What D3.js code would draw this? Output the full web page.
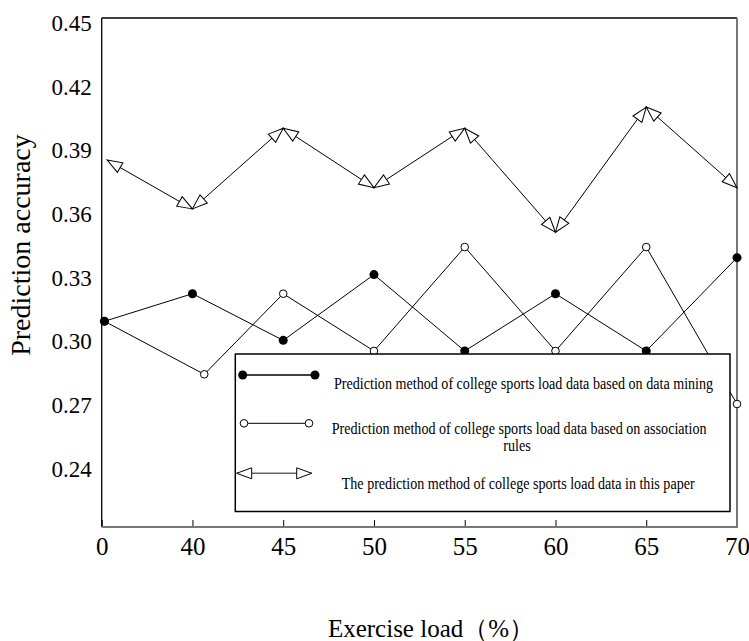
<!DOCTYPE html>
<html><head><meta charset="utf-8">
<script src="https://cdn.jsdelivr.net/npm/d3@7"></script>
<style>html,body{margin:0;padding:0;background:#fff;} svg{display:block;}</style>
</head><body><svg id="chart" width="749" height="641"></svg>
<script>
// ---- data ----
const xTickLabels = ["0","40","45","50","55","60","65","70"];
const xTickIndex = [0,1,2,3,4,5,6,7];
const yTickValues = [0.24,0.27,0.30,0.33,0.36,0.39,0.42,0.45];
const seriesNames = [
  "Prediction method of college sports load data based on data mining",
  "Prediction method of college sports load data based on association",
  "rules",
  "The prediction method of college sports load data in this paper"
];
const miningX = [0.03,1,2,3,4,5,6,7];
const miningY = [0.307,0.320,0.298,0.329,0.293,0.320,0.293,0.337];
const assocX  = [0.03,1.13,2,3,4,5,6,7];
const assocY  = [0.307,0.282,0.320,0.293,0.342,0.293,0.342,0.268];
const paperX  = [0.06,1,2,3,4,5,6,7];
const paperY  = [0.383,0.360,0.398,0.370,0.398,0.349,0.408,0.370];
const xTitle = "Exercise load（%）";
const yTitle = "Prediction accuracy";

// ---- layout ----
const FONT = "'Liberation Serif','Times New Roman',serif";
const L = 101.7, R = 737, T = 18, B = 527;
const svg = d3.select("#chart");
svg.append("rect").attr("width",749).attr("height",641).attr("fill","#fff");

const x = d3.scaleLinear().domain([0,7]).range([L,R]);
const y = d3.scaleLinear().domain([0.21,0.45]).range([B,T]);

const defs = svg.append("defs");
defs.append("marker").attr("id","tri")
  .attr("viewBox","0 0 15 11").attr("refX",15).attr("refY",5.5)
  .attr("markerWidth",15).attr("markerHeight",11)
  .attr("markerUnits","userSpaceOnUse").attr("orient","auto-start-reverse")
  .attr("overflow","visible")
  .append("path").attr("d","M0,0 L15,5.5 L0,11 Z")
  .attr("fill","#fff").attr("stroke","#000").attr("stroke-width",1);

// x axis (ticks inward)
const xAxis = d3.axisBottom(x).tickValues(xTickIndex)
  .tickFormat(i => xTickLabels[i]).tickSizeInner(-7).tickSizeOuter(0).tickPadding(10);
const gx = svg.append("g").attr("transform",`translate(0,${B})`).call(xAxis);
gx.select(".domain").remove();
gx.selectAll(".tick line").attr("stroke","#000").attr("stroke-width",1);
gx.selectAll(".tick text").attr("font-family",FONT).attr("font-size",25).attr("fill","#000");

// y axis (no ticks)
const yAxis = d3.axisLeft(y).tickValues(yTickValues).tickFormat(d3.format(".2f"))
  .tickSize(0).tickPadding(10);
const gy = svg.append("g").attr("transform",`translate(${L},0)`).call(yAxis);
gy.select(".domain").remove();
gy.selectAll(".tick text").attr("font-family",FONT).attr("font-size",23)
  .attr("fill","#000").attr("dy","0.55em");

// frame
svg.append("line").attr("x1",L).attr("x2",L).attr("y1",T).attr("y2",B).attr("stroke","#000").attr("stroke-width",1.3);
svg.append("line").attr("x1",L).attr("x2",R).attr("y1",T).attr("y2",T).attr("stroke","#000").attr("stroke-width",1.3);
svg.append("line").attr("x1",L).attr("x2",R+1).attr("y1",B).attr("y2",B).attr("stroke","#777").attr("stroke-width",2);
svg.append("line").attr("x1",R).attr("x2",R).attr("y1",T).attr("y2",B).attr("stroke","#777").attr("stroke-width",2);

// titles
svg.append("text").attr("x",431).attr("y",637).attr("text-anchor","middle")
  .attr("font-family",FONT).attr("font-size",25).attr("fill","#000").text(xTitle);
svg.append("text").attr("transform","translate(30,245) rotate(-90)").attr("text-anchor","middle")
  .attr("font-family",FONT).attr("font-size",28).attr("fill","#000").text(yTitle);

// series lines
const pts = (X,Y) => X.map((v,i)=>[x(v), y(Y[i])]);
const line = d3.line();
const minP = pts(miningX, miningY), assP = pts(assocX, assocY), papP = pts(paperX, paperY);
svg.append("path").attr("d",line(assP)).attr("fill","none").attr("stroke","#000").attr("stroke-width",1);
svg.append("path").attr("d",line(minP)).attr("fill","none").attr("stroke","#000").attr("stroke-width",1);
svg.selectAll(".seg").data(d3.pairs(papP)).join("line").attr("class","seg")
  .attr("x1",d=>d[0][0]).attr("y1",d=>d[0][1]).attr("x2",d=>d[1][0]).attr("y2",d=>d[1][1])
  .attr("stroke","#000").attr("stroke-width",1)
  .attr("marker-start","url(#tri)").attr("marker-end","url(#tri)");
svg.selectAll(".oc").data(assP).join("circle").attr("class","oc")
  .attr("cx",d=>d[0]).attr("cy",d=>d[1]).attr("r",3.8)
  .attr("fill","#fff").attr("stroke","#000").attr("stroke-width",1);
svg.selectAll(".bc").data(minP).join("circle").attr("class","bc")
  .attr("cx",d=>d[0]).attr("cy",d=>d[1]).attr("r",4.5).attr("fill","#000");

// legend
const lg = svg.append("g");
lg.append("rect").attr("x",235.3).attr("y",354).attr("width",494.7).attr("height",157.5)
  .attr("fill","#fff").attr("stroke","#000").attr("stroke-width",1.5);
// row1
lg.append("line").attr("x1",242.7).attr("x2",315).attr("y1",375).attr("y2",375).attr("stroke","#000").attr("stroke-width",1.3);
[242.7,315].forEach(cx=>lg.append("circle").attr("cx",cx).attr("cy",375).attr("r",4.5).attr("fill","#000"));
// row2
lg.append("line").attr("x1",244).attr("x2",309).attr("y1",423.3).attr("y2",423.3).attr("stroke","#000").attr("stroke-width",1);
[244,309].forEach(cx=>lg.append("circle").attr("cx",cx).attr("cy",423.3).attr("r",3.8).attr("fill","#fff").attr("stroke","#000"));
// row3
lg.append("line").attr("x1",236.7).attr("x2",311.7).attr("y1",473.3).attr("y2",473.3)
  .attr("stroke","#666").attr("stroke-width",1.6)
  .attr("marker-start","url(#tri)").attr("marker-end","url(#tri)");

const SY = 1.2;
function fitText(str, x0, x1, yb){
  const t = lg.append("text").attr("font-family",FONT).attr("font-size",14).attr("fill","#000").text(str);
  const w = t.node().getComputedTextLength();
  const fs = 14 * (x1 - x0) / w;
  t.attr("font-size", fs).attr("transform", `translate(${x0},${yb}) scale(1,${SY})`);
  return fs;
}
fitText(seriesNames[0], 334, 713.3, 389);
const fs2 = fitText(seriesNames[1], 331.7, 707, 433.5);
lg.append("text").attr("font-family",FONT).attr("font-size",fs2).attr("fill","#000")
  .attr("text-anchor","middle").attr("transform",`translate(517,451) scale(1,${SY})`).text(seriesNames[2]);
fitText(seriesNames[3], 341.7, 695, 489);
</script></body></html>
